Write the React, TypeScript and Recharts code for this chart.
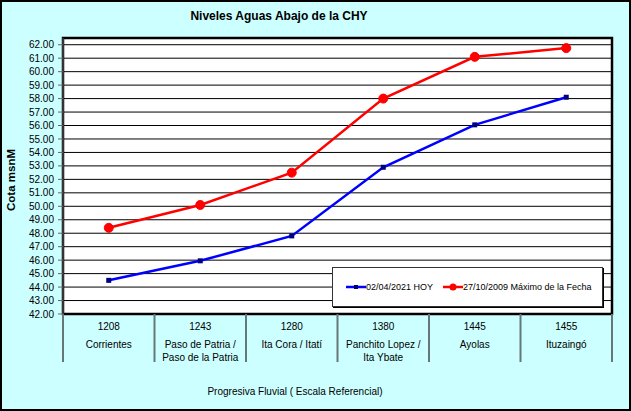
import { LineChart, Line, XAxis, YAxis, CartesianGrid, Legend, ReferenceArea, Label } from "recharts";

const km = ["1208", "1243", "1280", "1380", "1445", "1455"];
const stations = [
  ["Corrientes"],
  ["Paso de Patria /", "Paso de la Patria"],
  ["Ita Cora / Itatí"],
  ["Panchito Lopez /", "Ita Ybate"],
  ["Ayolas"],
  ["Ituzaingó"],
];
const hoy = [44.5, 45.95, 47.8, 52.9, 56.05, 58.1];
const maximo = [48.4, 50.1, 52.5, 58.0, 61.1, 61.75];
const yTicks = [42, 43, 44, 45, 46, 47, 48, 49, 50, 51, 52, 53, 54, 55, 56, 57, 58, 59, 60, 61, 62];

const data = km.map((k, i) => ({ km: k, hoy: hoy[i], maximo: maximo[i] }));

const FONT = "'Liberation Sans', Arial, sans-serif";
const HALF = 45.75;

function StationTick(props: any) {
  const { x, y, payload, index } = props;
  const lines = stations[index] || [];
  return (
    <g>
      <line x1={x - HALF} y1={y} x2={x - HALF} y2={y + 48} stroke="#667777" strokeWidth={2} />
      {index === km.length - 1 && (
        <line x1={x + HALF} y1={y} x2={x + HALF} y2={y + 48} stroke="#667777" strokeWidth={2} />
      )}
      <text x={x} y={y + 16} textAnchor="middle" fontSize={10} fontFamily={FONT} fill="#000">
        {payload.value}
      </text>
      {lines.map((l, i) => (
        <text key={i} x={x} y={y + 34 + i * 12.5} textAnchor="middle" fontSize={10} fontFamily={FONT} fill="#000">
          {l}
        </text>
      ))}
    </g>
  );
}

function SquareDot(props: any) {
  const { cx, cy, index } = props;
  return <rect key={"d" + index} x={cx - 2.5} y={cy - 2.5} width={5} height={5} fill="#000080" />;
}

function LegendBox() {
  const item = (color: string, square: boolean, text: string, w: number) => (
    <div style={{ display: "flex", alignItems: "center", width: w }}>
      <svg width={20} height={8}>
        <line x1={0} y1={4} x2={20} y2={4} stroke={color} strokeWidth={2.5} />
        {square ? <rect x={8} y={2} width={4} height={4} fill="#000080" /> : <circle cx={10} cy={4} r={3.5} fill={color} />}
      </svg>
      <span style={{ fontSize: 9, fontFamily: FONT, color: "#000", whiteSpace: "nowrap" }}>{text}</span>
    </div>
  );
  return (
    <div style={{ display: "flex", alignItems: "center", height: 38, paddingLeft: 13 }}>
      {item("#0000FF", true, "02/04/2021 HOY", 97)}
      {item("#FF0000", false, "27/10/2009 Máximo de la Fecha", 150)}
    </div>
  );
}

export default function App() {
  return (
    <div style={{ position: "absolute", left: 0, top: 0, width: 631, height: 411, background: "#CCFFFF" }}>
      <LineChart width={631} height={411} data={data} margin={{ top: 38, right: 19, bottom: 0, left: 0 }}>
        <CartesianGrid horizontal vertical={false} stroke="#000" strokeWidth={1} fill="#fff" fillOpacity={1} />
        <XAxis
          dataKey="km"
          scale="band"
          axisLine={false}
          tickLine={false}
          tickSize={0}
          tickMargin={0}
          height={97}
          interval={0}
          tick={<StationTick />}
        >
          <Label
            content={() => (
              <text x={295} y={395} textAnchor="middle" fontSize={10} fontFamily={FONT} fill="#000">
                Progresiva Fluvial ( Escala Referencial)
              </text>
            )}
          />
        </XAxis>
        <YAxis
          width={63}
          domain={[42, 62.5]}
          ticks={yTicks}
          interval={0}
          tickFormatter={(v: number) => v.toFixed(2)}
          tick={{ fontSize: 10, fontFamily: FONT, fill: "#000" }}
          axisLine={{ stroke: "#666", strokeWidth: 1 }}
          tickLine={{ stroke: "#666" }}
          tickSize={5}
          tickMargin={4}
        >
          <Label
            content={() => (
              <g>
                <text
                  x={11}
                  y={180}
                  transform="rotate(-90 11 180)"
                  textAnchor="middle"
                  dominantBaseline="central"
                  fontSize={11.5}
                  fontWeight="bold"
                  fontFamily={FONT}
                  fill="#000"
                >
                  Cota msnM
                </text>
                <text x={279} y={20} textAnchor="middle" fontSize={12} fontWeight="bold" fontFamily={FONT} fill="#000">
                  Niveles Aguas Abajo de la CHY
                </text>
              </g>
            )}
          />
        </YAxis>
        <ReferenceArea y1={42} y2={62.5} fill="none" stroke="#000" strokeWidth={2.5} ifOverflow="visible" />
        <Legend
          verticalAlign="middle"
          content={<LegendBox />}
          wrapperStyle={{
            left: 332,
            top: 267,
            width: 271,
            height: 40,
            background: "#fff",
            border: "1px solid #333",
            boxSizing: "border-box",
            boxShadow: "1px 1px 0 #000",
          }}
        />
        <Line
          type="linear"
          dataKey="hoy"
          name="02/04/2021 HOY"
          stroke="#0000FF"
          strokeWidth={2.5}
          dot={<SquareDot />}
          isAnimationActive={false}
        />
        <Line
          type="linear"
          dataKey="maximo"
          name="27/10/2009 Máximo de la Fecha"
          stroke="#FF0000"
          strokeWidth={2.5}
          dot={{ r: 4.5, fill: "#FF0000", stroke: "#FF0000", strokeWidth: 1 }}
          isAnimationActive={false}
        />
      </LineChart>
      <div
        style={{
          position: "absolute",
          left: 0,
          top: 0,
          width: 631,
          height: 411,
          border: "2px solid #000",
          boxSizing: "border-box",
          pointerEvents: "none",
        }}
      />
    </div>
  );
}
